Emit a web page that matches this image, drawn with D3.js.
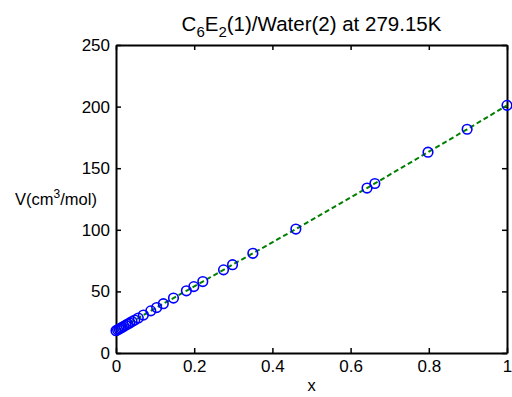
<!DOCTYPE html>
<html>
<head>
<meta charset="utf-8">
<script src="https://cdn.jsdelivr.net/npm/d3@7"></script>
<style>
  body { margin: 0; background: #fff; }
  text { font-family: Arial, "Liberation Sans", sans-serif; fill: #000; }
</style>
</head>
<body>
<div id="chart"></div>
<script>
// mole fraction of C6E2 and molar volume (cm3/mol)
const xVals = [0, 0.004, 0.008, 0.012, 0.016, 0.02, 0.025, 0.03, 0.035, 0.041, 0.048, 0.057,
  0.07, 0.089, 0.104, 0.121, 0.147, 0.18, 0.199, 0.222, 0.275, 0.298, 0.35, 0.46,
  0.642, 0.662, 0.798, 0.898, 1.0];
const vVals = [18.1, 18.8, 19.5, 20.2, 20.9, 21.7, 22.6, 23.5, 24.4, 25.5, 26.8, 28.4,
  30.8, 34.2, 36.9, 40.0, 44.6, 50.5, 53.9, 58.0, 67.5, 71.7, 80.9, 100.6,
  133.9, 137.6, 163.0, 181.6, 201.0];
const xTicks = [0, 0.2, 0.4, 0.6, 0.8, 1];
const yTicks = [0, 50, 100, 150, 200, 250];

const W = 512, H = 397;
const margin = {top: 45, right: 5, bottom: 44, left: 116},
  width = W - margin.left - margin.right,
  height = H - margin.top - margin.bottom;

const data = xVals.map((x, i) => ({x: x, v: vVals[i]}));

const svg = d3.select("#chart").append("svg")
  .attr("width", W)
  .attr("height", H);

const g = svg.append("g")
  .attr("transform", `translate(${margin.left},${margin.top})`);

const x = d3.scaleLinear().domain([0, 1]).range([0, width]);
const y = d3.scaleLinear().domain([0, 250]).range([height, 0]);

// axes, ticks pointing inward like matlab
const fmt = d => String(d);
g.append("g")
  .attr("transform", `translate(0,${height})`)
  .call(d3.axisBottom(x).tickValues(xTicks).tickFormat(fmt).tickSizeInner(-5).tickSizeOuter(0).tickPadding(7));
g.append("g")
  .call(d3.axisTop(x).tickValues(xTicks).tickFormat("").tickSizeInner(-5).tickSizeOuter(0));
g.append("g")
  .call(d3.axisLeft(y).tickValues(yTicks).tickFormat(fmt).tickSizeInner(-5).tickSizeOuter(0).tickPadding(6));
g.append("g")
  .attr("transform", `translate(${width},0)`)
  .call(d3.axisRight(y).tickValues(yTicks).tickFormat("").tickSizeInner(-5).tickSizeOuter(0));

g.selectAll(".domain").attr("stroke", "#000").attr("stroke-width", 2);
g.selectAll(".tick line").attr("stroke", "#000").attr("stroke-width", 1.5);
g.selectAll(".tick text").style("font-size", "17px")
  .style("font-family", "Arial, 'Liberation Sans', sans-serif");

// dashed green line
g.append("path")
  .datum(data)
  .attr("fill", "none")
  .attr("stroke", "#008000")
  .attr("stroke-width", 2)
  .attr("stroke-dasharray", "5,3")
  .attr("d", d3.line().x(d => x(d.x)).y(d => y(d.v)));

// blue open circles
g.selectAll("circle")
  .data(data)
  .join("circle")
    .attr("cx", d => x(d.x))
    .attr("cy", d => y(d.v))
    .attr("r", 4.8)
    .attr("fill", "none")
    .attr("stroke", "#0000ff")
    .attr("stroke-width", 1.6);

// title with subscripts
const title = svg.append("text")
  .attr("x", margin.left + width / 2)
  .attr("y", 31)
  .attr("text-anchor", "middle")
  .style("font-size", "20.5px");
title.append("tspan").text("C");
title.append("tspan").attr("dy", 6).style("font-size", "15px").text("6");
title.append("tspan").attr("dy", -6).text("E");
title.append("tspan").attr("dy", 6).style("font-size", "15px").text("2");
title.append("tspan").attr("dy", -6).text("(1)/Water(2) at 279.15K");

// y label
const ylab = svg.append("text")
  .attr("x", 56)
  .attr("y", margin.top + height / 2 + 6)
  .attr("text-anchor", "middle")
  .style("font-size", "16.5px");
ylab.append("tspan").text("V(cm");
ylab.append("tspan").attr("dy", -7).style("font-size", "12px").text("3");
ylab.append("tspan").attr("dy", 7).text("/mol)");

// x label
svg.append("text")
  .attr("x", margin.left + width / 2)
  .attr("y", 391)
  .attr("text-anchor", "middle")
  .style("font-size", "16.5px")
  .text("x");
</script>
</body>
</html>
